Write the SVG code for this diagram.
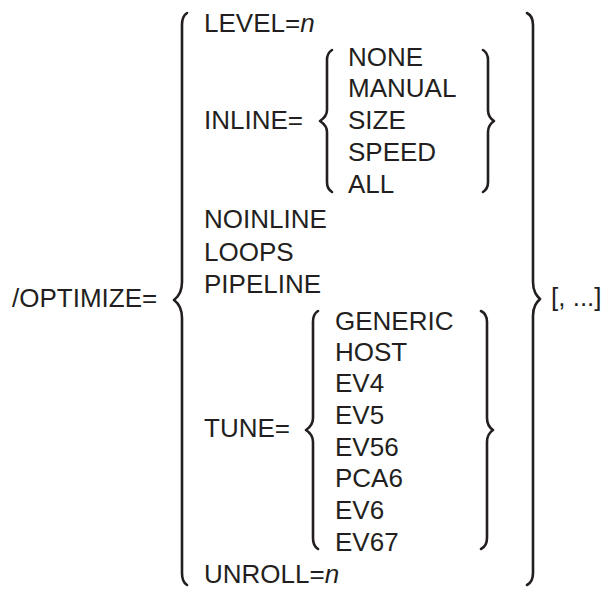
<svg xmlns="http://www.w3.org/2000/svg" width="605" height="590" viewBox="0 0 605 590">
<style>
text{font-family:"Liberation Sans",Arial,Helvetica,sans-serif;font-size:26px;fill:#231f20}
.it{font-style:italic}
.br{fill:none;stroke:#231f20;stroke-width:2.6;stroke-linecap:round;stroke-linejoin:round}
</style>
<rect width="605" height="590" fill="#fff"/>
<g id="qualifier"><text x="12" y="307">/OPTIMIZE=</text></g>
<g id="repeat"><text x="551" y="306">[, ...]</text></g>
<g id="main-options">
<text x="204" y="32">LEVEL=<tspan class="it">n</tspan></text>
<text x="204" y="129">INLINE=</text>
<text x="204" y="228">NOINLINE</text>
<text x="204" y="261">LOOPS</text>
<text x="204" y="293">PIPELINE</text>
<text x="204" y="437">TUNE=</text>
<text x="204" y="583">UNROLL=<tspan class="it">n</tspan></text>
</g>
<g id="inline-options">
<text x="348" y="66">NONE</text>
<text x="348" y="97">MANUAL</text>
<text x="348" y="129">SIZE</text>
<text x="348" y="161">SPEED</text>
<text x="348" y="193">ALL</text>
</g>
<g id="tune-options">
<text x="335" y="330">GENERIC</text>
<text x="335" y="361">HOST</text>
<text x="335" y="392">EV4</text>
<text x="335" y="424">EV5</text>
<text x="335" y="456">EV56</text>
<text x="335" y="487">PCA6</text>
<text x="335" y="519">EV6</text>
<text x="335" y="551">EV67</text>
</g>
<g id="braces">
<path class="br" d="M187,13 Q182,16 182,25 L182,282 C182,292 178,297 174,300 C178,303 182,308 182,318 L182,573 Q182,582 187,585"/>
<path class="br" d="M527,13 Q533,16 533,25 L533,282 C533,292 537,296 540,299 C537,302 533,306 533,316 L533,573 Q533,582 527,585"/>
<path class="br" d="M332,50 Q327,53 327,60 L327,110 C327,116 323,119 320,121 C323,123 327,126 327,132 L327,182 Q327,189 332,192"/>
<path class="br" d="M483,50 Q488,53 488,60 L488,110 C488,116 491,119 494,121 C491,123 488,126 488,132 L488,182 Q488,189 483,192"/>
<path class="br" d="M318,311 Q313,314 313,322 L313,418 C313,424 309,428 306,430 C309,432 313,436 313,442 L313,538 Q313,546 318,549"/>
<path class="br" d="M481,311 Q487,314 487,322 L487,418 C487,424 490,428 493,430 C490,432 487,436 487,442 L487,538 Q487,546 481,549"/>
</g>
</svg>
